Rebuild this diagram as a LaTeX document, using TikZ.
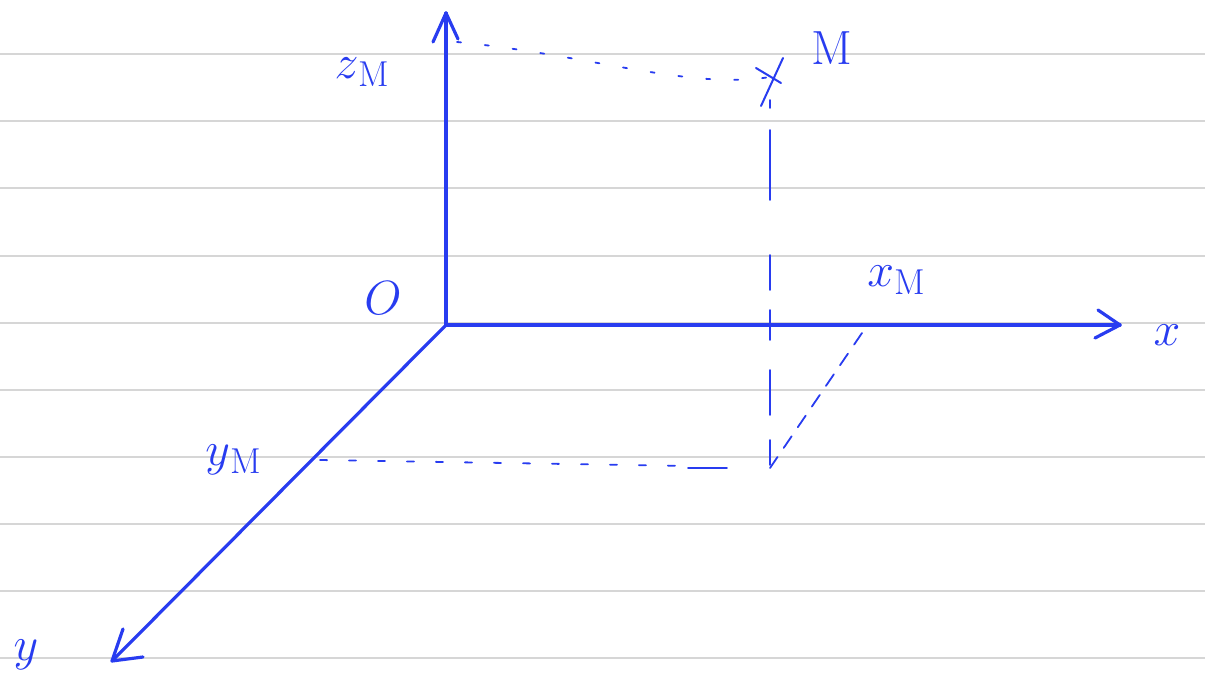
\documentclass[tikz,border=0pt]{standalone}
\usepackage{fix-cm}
\definecolor{ink}{RGB}{40,60,240}
\definecolor{ruleline}{RGB}{214,214,214}
\newcommand{\subM}{\raisebox{-8pt}{\fontsize{36}{36}\selectfont M}}
\begin{document}
\begin{tikzpicture}[x=1pt,y=-1pt,
  axis/.style={ink, line width=3.2pt, line cap=round, line join=round},
  proj/.style={ink, line width=1.8pt, line cap=round},
  lab/.style={ink, font=\fontsize{48}{48}\selectfont, inner sep=0pt},
  paper/.style={ruleline, line width=1.4pt}]
\useasboundingbox (0,0) rectangle (1205,693);
% ruled paper
\foreach \yy in {54,121,188,256,323,390,457,524,591,658}
  \draw[paper] (0,\yy) -- (1205,\yy);
% points
\coordinate (O) at (446,325);
\coordinate (ztip) at (446,13);
\coordinate (xtip) at (1120,325);
\coordinate (ytip) at (112,661);
\coordinate (zM) at (457,42);
\coordinate (M) at (770,77);
\coordinate (vtop) at (770,100);
\coordinate (P) at (770,468);
\coordinate (yM) at (320,460);
\coordinate (xM) at (862,333);
% axes
\draw[axis] (O) -- (ztip);
\draw[axis] (O) -- (xtip);
\draw[axis] (O) -- (ytip);
% open arrowheads
\draw[axis] ([shift={(-13,29)}]ztip) -- (ztip) -- ([shift={(12,26)}]ztip);
\draw[axis] ([shift={(-22,-15)}]xtip) -- (xtip) -- ([shift={(-25,13)}]xtip);
\draw[axis] ([shift={(11,-32)}]ytip) -- (ytip) -- ([shift={(31,-4)}]ytip);
% projections
\draw[proj, dash pattern=on 4pt off 24pt] (zM) .. controls (590,55) and (690,90) .. (M);
\draw[proj, dash pattern=on 7pt off 22pt] (yM) -- (690,466);
\draw[proj] (688,468) -- (727,468);
\draw[proj, dash pattern=on 70pt off 55pt on 35pt off 20pt on 30pt off 30pt on 45pt off 25pt on 25pt off 100pt] (770,130) -- (P);
\draw[proj] (vtop) -- (770,108);
\draw[proj, dash pattern=on 14pt off 11pt] (xM) -- (P);
% cross at M
\draw[proj, line width=2pt] (783,58) -- (761,106);
\draw[proj, line width=2pt] (756,68) -- (781,83);
% labels
\node[lab] (lzM) at (362,72) {$z$\subM};
\node[lab] (lM) at (832,48) {M};
\node[lab] (lO) at (383,298) {$O$};
\node[lab] (lxM) at (896,280) {$x$\subM};
\node[lab] (lx) at (1167,335) {$x$};
\node[lab] (lyM) at (233,460) {$y$\subM};
\node[lab] (ly) at (26,655) {$y$};
\end{tikzpicture}
\end{document}
